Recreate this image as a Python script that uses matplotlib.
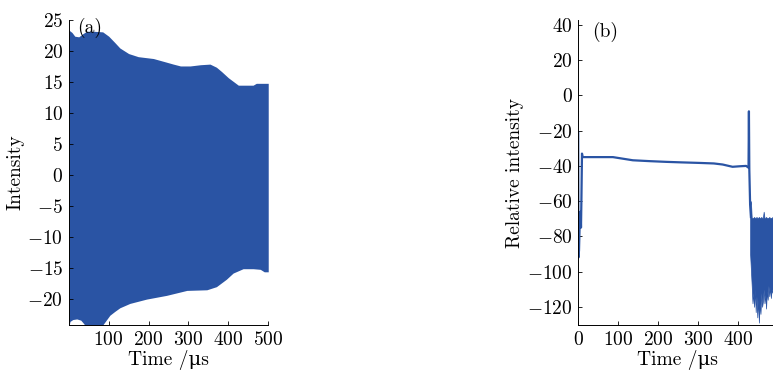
import matplotlib
matplotlib.use("Agg")
import matplotlib.pyplot as plt
import numpy as np

plt.rcParams['font.family'] = ['cmr10', 'DejaVu Serif']
plt.rcParams['mathtext.fontset'] = 'cm'
plt.rcParams['axes.formatter.use_mathtext'] = True

BLUE = '#2A54A4'

# ---- panel (a): envelope of dense oscillation ----
a_upper_t = [0, 8, 15, 25, 35, 45, 60, 85, 100, 115, 128, 150, 174, 212, 240, 262, 280, 304, 330,
             354, 370, 383, 400, 425, 462, 470, 500]
a_upper_v = [23.4, 23.0, 22.4, 22.3, 22.8, 23.2, 23.2, 23.1, 22.4, 21.4, 20.5, 19.6, 19.1, 18.8, 18.3,
             17.9, 17.6, 17.6, 17.8, 17.9, 17.4, 16.7, 15.7, 14.5, 14.5, 14.8, 14.8]
a_lower_t = [0, 3, 10, 20, 30, 38, 42, 80, 87, 95, 103, 115, 128, 153, 195, 245, 296, 346, 370, 395,
             412, 437, 462, 480, 490, 500]
a_lower_v = [-24.5, -23.6, -23.3, -23.2, -23.4, -24.0, -24.6, -24.6, -24.0, -23.3, -22.6, -22.0, -21.4,
             -20.7, -20.0, -19.4, -18.6, -18.5, -18.0, -16.8, -15.8, -15.1, -15.1, -15.2, -15.6, -15.6]
a_xticks = [100, 200, 300, 400, 500]
a_yticks = [-20, -15, -10, -5, 0, 5, 10, 15, 20, 25]

# ---- panel (b): relative intensity ----
b_t = [0, 0.5, 2, 4, 6, 7, 8, 9.5, 11, 60, 87, 137, 180, 221, 260, 304, 340, 362, 387, 405, 421, 427,
       428, 429, 431, 433]
b_v = [-21, -92, -88, -70, -66, -75, -60, -33, -35, -35, -35, -36.8, -37.3, -37.7, -38.0, -38.3, -38.6,
       -39.2, -40.5, -40.2, -40.0, -41.0, -9.0, -42.0, -62.0, -69.0]
band_t = [431, 433, 435, 437, 439, 441, 443, 445, 447, 449, 451, 453, 455, 457, 459, 461, 463, 465, 467,
          469, 471, 473, 475, 477, 479, 481, 483, 485, 487, 490, 495, 500]
band_top = [-62, -60, -69.5, -69.5, -69.5, -69, -69.5, -69.5, -69, -69.5, -69.5, -69, -69.5, -69.5, -69,
            -69.5, -69.5, -66, -69.5, -69.5, -69, -69.5, -69.5, -69.5, -69, -69.5, -69.5, -69.5, -69, -69.5,
            -69.5, -69.5]
band_bot = [-90, -99, -108, -118, -112, -120, -110, -123, -114, -126, -116, -129, -118, -124, -112, -120,
            -117, -110, -118, -113, -121, -111, -116, -108, -114, -109, -115, -110, -112, -109, -113, -110]
b_xticks = [0, 100, 200, 300, 400]
b_yticks = [-120, -100, -80, -60, -40, -20, 0, 20, 40]

fig = plt.figure(figsize=(7.73, 3.72), dpi=100)
fs = 14

def style(ax):
    ax.spines['top'].set_visible(False)
    ax.spines['right'].set_visible(False)
    ax.tick_params(direction='in', length=3, width=0.6, labelsize=fs, top=False, right=False, pad=4)
    for s in ('left', 'bottom'):
        ax.spines[s].set_linewidth(0.7)

# panel (a)
ax1 = fig.add_axes([0.089, 0.126, 0.258, 0.820])
tt = np.union1d(a_upper_t, a_lower_t)
up = np.interp(tt, a_upper_t, a_upper_v)
lo = np.interp(tt, a_lower_t, a_lower_v)
ax1.fill_between(tt, lo, up, color=BLUE, linewidth=0)
ax1.set_xlim(0, 500)
ax1.set_ylim(-24.2, 25)
ax1.set_xticks(a_xticks)
ax1.set_yticks(a_yticks)
ax1.set_xlabel('Time /μs', fontsize=fs, labelpad=1)
ax1.set_ylabel('Intensity', fontsize=fs, labelpad=2)
ax1.text(22, 23.8, '(a)', fontsize=fs, va='center', ha='left')
style(ax1)

# panel (b)
ax2 = fig.add_axes([0.748, 0.126, 0.258, 0.820])
ax2.plot(b_t, b_v, color=BLUE, linewidth=1.6)
ax2.fill_between(band_t, band_bot, band_top, color=BLUE, linewidth=0.5, edgecolor=BLUE)
ax2.set_xlim(0, 500)
ax2.set_ylim(-130.4, 42.8)
ax2.set_xticks(b_xticks)
ax2.set_yticks(b_yticks)
ax2.set_xlabel('Time /μs', fontsize=fs, labelpad=1)
ax2.set_ylabel('Relative intensity', fontsize=fs, labelpad=2)
ax2.text(35, 36, '(b)', fontsize=fs, va='center', ha='left')
style(ax2)

fig.savefig('out.png', dpi=100)
